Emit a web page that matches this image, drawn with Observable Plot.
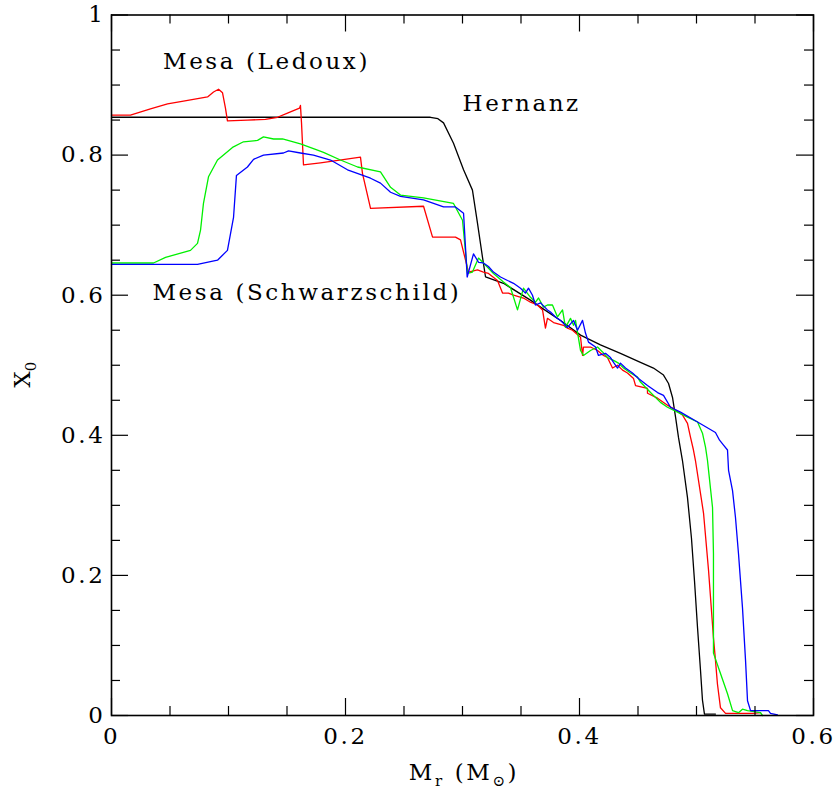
<!DOCTYPE html>
<html><head><meta charset="utf-8">
<script src="https://cdn.jsdelivr.net/npm/d3@7"></script>
<script src="https://cdn.jsdelivr.net/npm/@observablehq/plot@0.6"></script>
<style>body{margin:0;background:#fff} svg{display:block}</style>
</head><body><div id="chart"></div>
<script>
// ---- data ----
const seriesNames = ["Hernanz", "Mesa (Ledoux)", "Mesa (Schwarzschild) A", "Mesa (Schwarzschild) B"];
const seriesColors = ["#000000", "#ff0000", "#00f000", "#0000ff"];

const hernanz = [
[0,0.854],[0.2726,0.854],[0.279,0.852],[0.2838,0.846],[0.2923,0.817],[0.3009,0.779],[0.3085,0.750],[0.3128,0.703],[0.3171,0.654],[0.3197,0.626],[0.3350,0.617],[0.3581,0.593],[0.3667,0.583],[0.3838,0.564],[0.4009,0.543],[0.4179,0.529],[0.4350,0.517],[0.4521,0.504],[0.4632,0.496],[0.4718,0.486],[0.4761,0.474],[0.4795,0.454],[0.4821,0.426],[0.4846,0.397],[0.4880,0.364],[0.4923,0.311],[0.4957,0.253],[0.4983,0.192],[0.5009,0.125],[0.5034,0.065],[0.5051,0.022],[0.5068,0.002],[0.5162,0.002]
];
const mesaLedoux = [
[0,0.857],[0.0162,0.857],[0.0333,0.866],[0.0479,0.873],[0.0615,0.877],[0.0821,0.883],[0.0872,0.890],[0.0915,0.894],[0.0949,0.889],[0.0974,0.867],[0.0991,0.849],[0.1162,0.850],[0.1316,0.851],[0.1419,0.854],[0.1504,0.860],[0.1607,0.867],[0.1615,0.871],[0.1624,0.846],[0.1641,0.786],[0.1786,0.789],[0.2128,0.797],[0.2145,0.774],[0.2214,0.724],[0.2667,0.727],[0.2744,0.683],[0.2940,0.683],[0.2983,0.679],[0.3026,0.650],[0.3051,0.633],[0.3128,0.636],[0.3179,0.633],[0.3222,0.631],[0.3299,0.621],[0.3342,0.603],[0.3393,0.603],[0.3436,0.600],[0.3521,0.596],[0.3581,0.590],[0.3641,0.586],[0.3684,0.579],[0.3709,0.553],[0.3726,0.567],[0.3778,0.561],[0.3863,0.557],[0.3897,0.553],[0.3940,0.550],[0.4009,0.540],[0.4026,0.514],[0.4034,0.526],[0.4094,0.526],[0.4154,0.521],[0.4205,0.514],[0.4239,0.511],[0.4282,0.496],[0.4325,0.500],[0.4368,0.493],[0.4410,0.489],[0.4462,0.481],[0.4479,0.471],[0.4581,0.467],[0.4581,0.460],[0.4667,0.453],[0.4752,0.443],[0.4821,0.436],[0.4880,0.429],[0.4923,0.417],[0.4949,0.397],[0.4974,0.379],[0.4991,0.364],[0.5060,0.289],[0.5103,0.207],[0.5145,0.111],[0.5162,0.079],[0.5179,0.045],[0.5205,0.011],[0.5248,0.003],[0.5487,0.003],[0.5547,0.004]
];
const mesaSchwA = [
[0,0.646],[0.0359,0.646],[0.0462,0.654],[0.0675,0.664],[0.0735,0.674],[0.0761,0.693],[0.0786,0.731],[0.0829,0.769],[0.0906,0.793],[0.1034,0.811],[0.1128,0.819],[0.1248,0.821],[0.1299,0.826],[0.1385,0.823],[0.1462,0.823],[0.1615,0.816],[0.1761,0.807],[0.1812,0.804],[0.1957,0.793],[0.2103,0.783],[0.2299,0.776],[0.2385,0.754],[0.2470,0.743],[0.2667,0.739],[0.2923,0.731],[0.3000,0.707],[0.3043,0.631],[0.3085,0.633],[0.3137,0.653],[0.3179,0.646],[0.3265,0.631],[0.3350,0.619],[0.3410,0.611],[0.3470,0.579],[0.3521,0.610],[0.3581,0.597],[0.3624,0.590],[0.3650,0.596],[0.3692,0.583],[0.3726,0.586],[0.3769,0.586],[0.3812,0.569],[0.3855,0.579],[0.3880,0.554],[0.3923,0.567],[0.3949,0.557],[0.3966,0.564],[0.4009,0.521],[0.4034,0.514],[0.4094,0.521],[0.4154,0.526],[0.4197,0.519],[0.4239,0.511],[0.4291,0.507],[0.4333,0.503],[0.4376,0.496],[0.4436,0.489],[0.4496,0.483],[0.4521,0.476],[0.4607,0.461],[0.4692,0.447],[0.4752,0.440],[0.4838,0.433],[0.4923,0.426],[0.5009,0.419],[0.5051,0.403],[0.5077,0.383],[0.5094,0.364],[0.5103,0.350],[0.5137,0.297],[0.5145,0.231],[0.5145,0.089],[0.5205,0.060],[0.5265,0.031],[0.5308,0.007],[0.5359,0.004],[0.5393,0.009],[0.5436,0.007],[0.5547,0.004],[0.5564,0]
];
const mesaSchwB = [
[0,0.644],[0.0735,0.644],[0.0906,0.650],[0.0991,0.664],[0.1043,0.711],[0.1068,0.771],[0.1162,0.783],[0.1214,0.794],[0.1299,0.800],[0.1470,0.803],[0.1513,0.806],[0.1615,0.803],[0.1726,0.800],[0.1872,0.793],[0.2017,0.779],[0.2214,0.767],[0.2299,0.760],[0.2385,0.747],[0.2470,0.741],[0.2667,0.736],[0.2838,0.726],[0.2940,0.726],[0.3009,0.717],[0.3040,0.626],[0.3094,0.659],[0.3137,0.647],[0.3179,0.646],[0.3222,0.641],[0.3265,0.633],[0.3325,0.626],[0.3385,0.621],[0.3436,0.617],[0.3496,0.610],[0.3538,0.603],[0.3564,0.610],[0.3598,0.600],[0.3624,0.586],[0.3667,0.589],[0.3726,0.579],[0.3752,0.576],[0.3795,0.569],[0.3838,0.564],[0.3897,0.554],[0.3949,0.564],[0.3983,0.550],[0.4026,0.564],[0.4051,0.546],[0.4077,0.533],[0.4137,0.526],[0.4162,0.514],[0.4222,0.517],[0.4265,0.511],[0.4291,0.504],[0.4325,0.496],[0.4350,0.503],[0.4393,0.496],[0.4453,0.489],[0.4504,0.481],[0.4581,0.471],[0.4667,0.461],[0.4718,0.457],[0.4778,0.440],[0.4863,0.433],[0.5009,0.419],[0.5162,0.404],[0.5197,0.393],[0.5231,0.386],[0.5265,0.379],[0.5274,0.350],[0.5308,0.321],[0.5333,0.283],[0.5359,0.231],[0.5393,0.154],[0.5419,0.079],[0.5436,0.021],[0.5462,0.007],[0.5615,0.007],[0.5632,0.003],[0.5692,0.001]
];

const xMajor = [0, 0.2, 0.4, 0.6];
const xMajorLabels = ["0", "0.2", "0.4", "0.6"];
const xMinor = [0.05, 0.1, 0.15, 0.25, 0.3, 0.35, 0.45, 0.5, 0.55];
const yMajor = [0, 0.2, 0.4, 0.6, 0.8, 1];
const yMajorLabels = ["0", "0.2", "0.4", "0.6", "0.8", "1"];
const yMinor = [0.05,0.1,0.15,0.25,0.3,0.35,0.45,0.5,0.55,0.65,0.7,0.75,0.85,0.9,0.95];

const annoText = ["Mesa (Ledoux)", "Hernanz", "Mesa (Schwarzschild)"];
const annoX = [0.044, 0.3, 0.035];
const annoY = [0.933, 0.874, 0.603];

// ---- build ----
const W = 837, H = 798, mL = 111, mR = 24, mT = 14.5, mB = 83;
const innerW = W - mL - mR, innerH = H - mT - mB;
const majorLen = 17, minorLen = 9;
const FONT = "DejaVu Serif";

const allSeries = [hernanz, mesaLedoux, mesaSchwA, mesaSchwB];
const table = allSeries.flatMap((pts, i) => pts.map(([x, y]) => ({name: seriesNames[i], x, y})));
const annos = annoText.map((t, i) => ({t, x: annoX[i], y: annoY[i]}));

const tickStyle = {stroke: "#000", strokeWidth: 1.2};
const plot = Plot.plot({
  width: W, height: H,
  marginLeft: mL, marginRight: mR, marginTop: mT, marginBottom: mB,
  x: {domain: [0, 0.6]},
  y: {domain: [0, 1]},
  color: {domain: seriesNames, range: seriesColors},
  style: {fontFamily: FONT, background: "#fff", color: "#000"},
  marks: [
    Plot.line(table, {x: "x", y: "y", z: "name", stroke: "name", strokeWidth: 1.3}),
    // inward ticks on all four sides
    Plot.tickX(xMajor, {x: d => d, insetTop: innerH - majorLen, ...tickStyle}),
    Plot.tickX(xMinor, {x: d => d, insetTop: innerH - minorLen, ...tickStyle}),
    Plot.tickX(xMajor, {x: d => d, insetBottom: innerH - majorLen, ...tickStyle}),
    Plot.tickX(xMinor, {x: d => d, insetBottom: innerH - minorLen, ...tickStyle}),
    Plot.tickY(yMajor, {y: d => d, insetRight: innerW - majorLen, ...tickStyle}),
    Plot.tickY(yMinor, {y: d => d, insetRight: innerW - minorLen, ...tickStyle}),
    Plot.tickY(yMajor, {y: d => d, insetLeft: innerW - majorLen, ...tickStyle}),
    Plot.tickY(yMinor, {y: d => d, insetLeft: innerW - minorLen, ...tickStyle}),
    Plot.frame({stroke: "#000", strokeWidth: 1.6}),
    Plot.axisX({ticks: xMajor, tickSize: 0, tickPadding: 12, label: null,
      tickFormat: d => xMajorLabels[xMajor.indexOf(d)], fontSize: 23, fill: "#000"}),
    Plot.axisY({ticks: yMajor, tickSize: 0, tickPadding: 6, label: null,
      tickFormat: d => yMajorLabels[yMajor.indexOf(d)], fontSize: 23, fill: "#000"}),
    Plot.text(annos, {x: "x", y: "y", text: "t", textAnchor: "start", fontSize: 23, fill: "#000"})
  ]
});

const svg = d3.select(plot);
svg.selectAll("text").style("letter-spacing", "2.6px");

// axis titles with subscripts
const xt = svg.append("text")
  .attr("x", mL + innerW / 2 + 2).attr("y", H - 18)
  .attr("text-anchor", "middle").attr("font-size", 23).attr("font-family", FONT)
  .style("letter-spacing", "2.6px").attr("fill", "#000");
xt.append("tspan").text("M");
xt.append("tspan").attr("dy", 6).attr("font-size", 15).text("r");
xt.append("tspan").attr("dy", -6).text(" (M");
xt.append("tspan").attr("dy", 6).attr("font-size", 15).text("⊙");
xt.append("tspan").attr("dy", -6).text(")");

const yt = svg.append("text")
  .attr("transform", `translate(30,${mT + innerH / 2 + 10}) rotate(-90)`)
  .attr("text-anchor", "middle").attr("font-size", 23).attr("font-family", FONT)
  .attr("fill", "#000");
yt.append("tspan").text("X");
yt.append("tspan").attr("dy", 6).attr("font-size", 15).text("0");

document.getElementById("chart").appendChild(plot);
</script>
</body></html>
